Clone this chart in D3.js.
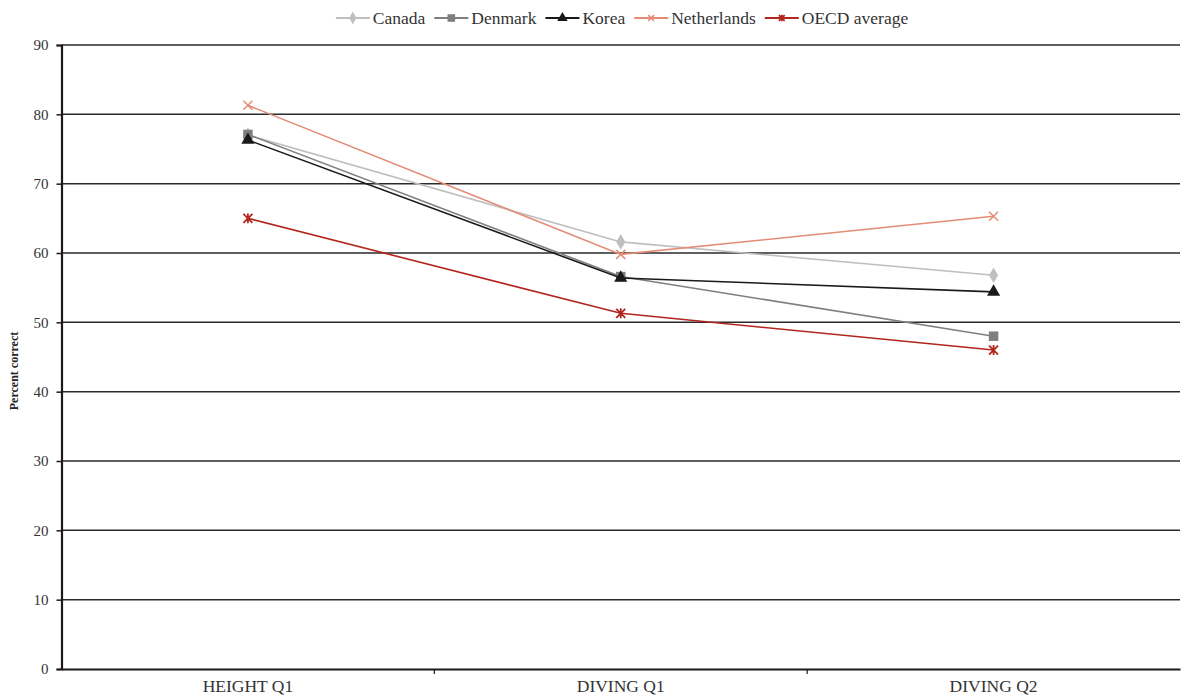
<!DOCTYPE html>
<html><head><meta charset="utf-8">
<script src="https://cdn.jsdelivr.net/npm/d3@7"></script>
<style>body{margin:0;background:#fff;} svg text{font-family:"Liberation Serif","DejaVu Serif",serif !important;}</style>
</head><body>
<svg id="c" width="1185" height="697" font-family="Liberation Serif, serif"></svg>
<script>
const categories = ["HEIGHT Q1", "DIVING Q1", "DIVING Q2"];
const seriesNames = ["Canada", "Denmark", "Korea", "Netherlands", "OECD average"];
const canada = [77.0, 61.6, 56.8];
const denmark = [77.1, 56.6, 48.0];
const korea = [76.3, 56.4, 54.4];
const netherlands = [81.3, 59.8, 65.3];
const oecd = [65.0, 51.3, 46.0];
const yTicks = [0, 10, 20, 30, 40, 50, 60, 70, 80, 90];
const colors = ["#bfbfbf", "#7f7f7f", "#1a1a1a", "#e38c76", "#b3261e"];
const symbols = ["diamond", "square", "triangle", "x", "star"];
const seriesValues = [canada, denmark, korea, netherlands, oecd];
const FONT = "Liberation Serif";

const svg = d3.select("#c");
const m = {l: 61.5, r: 1180, t: 45, b: 669};
const x = d3.scaleBand().domain(categories).range([m.l, m.r]);
const y = d3.scaleLinear().domain([0, 90]).range([m.b, m.t]);

// gridlines
svg.append("g").selectAll("line").data(yTicks.filter(d => d > 0)).join("line")
  .attr("x1", m.l).attr("x2", m.r).attr("y1", d => y(d)).attr("y2", d => y(d))
  .attr("stroke", "#2a2a2a").attr("stroke-width", 1.5);

// y axis
const ya = svg.append("g").attr("transform", `translate(${m.l},0)`)
  .call(d3.axisLeft(y).tickValues(yTicks).tickSize(5).tickPadding(8));
ya.attr("font-family", FONT);
ya.select(".domain").attr("stroke", "#1a1a1a").attr("stroke-width", 2.2);
ya.selectAll(".tick line").attr("stroke", "#1a1a1a").attr("stroke-width", 1.5);
ya.selectAll("text").attr("font-size", 15).attr("fill", "#333").attr("font-family", FONT);

// x axis
const xa = svg.append("g").attr("transform", `translate(0,${m.b})`)
  .call(d3.axisBottom(x).tickSize(0).tickPadding(11));
xa.attr("font-family", FONT);
xa.select(".domain").attr("stroke", "#1a1a1a").attr("stroke-width", 2);
xa.selectAll("text").attr("font-size", 17.5).attr("fill", "#333").attr("font-family", FONT);
const bounds = categories.slice(1).map(c => x(c));
svg.append("g").selectAll("line").data(bounds).join("line")
  .attr("x1", d => d).attr("x2", d => d).attr("y1", m.b).attr("y2", m.b + 5)
  .attr("stroke", "#1a1a1a").attr("stroke-width", 1.2);

// y title
svg.append("text").attr("transform", `translate(18,371) rotate(-90)`)
  .attr("text-anchor", "middle").attr("font-size", 12).attr("font-weight", "bold")
  .attr("font-family", FONT).attr("fill", "#222").text("Percent correct");

function drawMarker(g, type, color, cx, cy, s) {
  if (type === "diamond") {
    g.append("path").attr("d", d3.symbol(d3.symbolDiamond, s * 14)()).attr("transform", `translate(${cx},${cy})`).attr("fill", color);
  } else if (type === "square") {
    g.append("path").attr("d", d3.symbol(d3.symbolSquare, s * 18)()).attr("transform", `translate(${cx},${cy})`).attr("fill", color);
  } else if (type === "triangle") {
    g.append("path").attr("d", d3.symbol(d3.symbolTriangle, s * 15)()).attr("transform", `translate(${cx},${cy})`).attr("fill", color);
  } else if (type === "x") {
    const r = s * 0.9;
    g.append("path").attr("d", `M${cx - r},${cy - r}L${cx + r},${cy + r}M${cx - r},${cy + r}L${cx + r},${cy - r}`)
      .attr("stroke", color).attr("stroke-width", 1.5).attr("fill", "none");
  } else if (type === "star") {
    const r = s * 0.9;
    g.append("path").attr("d", `M${cx - r},${cy - r}L${cx + r},${cy + r}M${cx - r},${cy + r}L${cx + r},${cy - r}M${cx},${cy - r * 1.1}L${cx},${cy + r * 1.1}`)
      .attr("stroke", color).attr("stroke-width", 1.8).attr("fill", "none");
  }
}

const line = d3.line().x((d, i) => x(categories[i]) + x.bandwidth() / 2).y(d => y(d));
seriesValues.forEach((vals, k) => {
  const g = svg.append("g");
  g.append("path").attr("d", line(vals)).attr("fill", "none").attr("stroke", colors[k]).attr("stroke-width", 1.6);
  vals.forEach((v, i) => drawMarker(g, symbols[k], colors[k], x(categories[i]) + x.bandwidth() / 2, y(v), 5));
});

// legend: laid out by measured text widths, centred like the reference
const lg = svg.append("g");
const ly = 18, lineLen = 34, gapText = 3, gapItem = 9;
const items = seriesNames.map((n, k) => {
  const g = lg.append("g");
  g.append("line").attr("x1", 0).attr("x2", lineLen).attr("y1", ly).attr("y2", ly)
    .attr("stroke", colors[k]).attr("stroke-width", 1.8);
  drawMarker(g, symbols[k], colors[k], lineLen / 2, ly, 3.2);
  const t = g.append("text").attr("x", lineLen + gapText).attr("y", ly + 5.5).attr("font-size", 17.5)
    .attr("font-family", FONT).attr("fill", "#333").text(n);
  return {g, w: lineLen + gapText + t.node().getComputedTextLength()};
});
const total = d3.sum(items, d => d.w) + gapItem * (items.length - 1);
let cx = 622 - total / 2;
items.forEach(it => { it.g.attr("transform", `translate(${cx},0)`); cx += it.w + gapItem; });
</script>
</body></html>
